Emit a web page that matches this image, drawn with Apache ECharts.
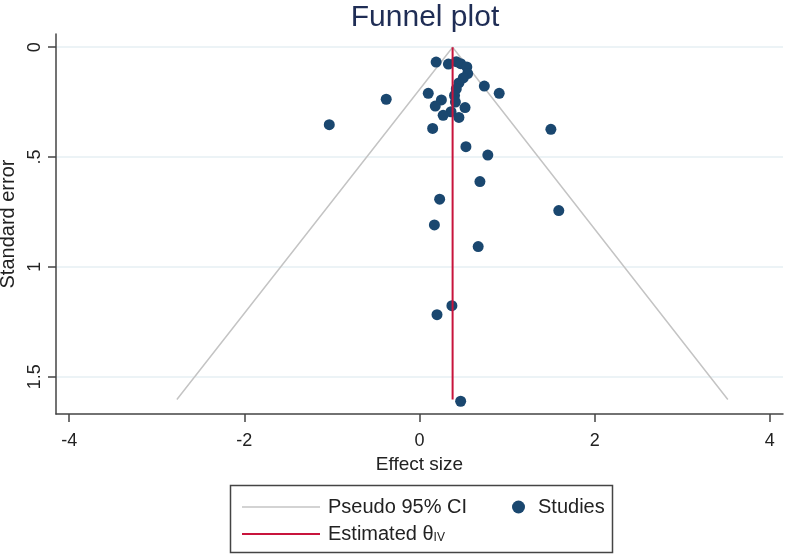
<!DOCTYPE html>
<html>
<head>
<meta charset="utf-8">
<script src="https://cdn.jsdelivr.net/npm/echarts@6/dist/echarts.min.js"></script>
<style>html,body{margin:0;padding:0;background:#fff}#c{width:787px;height:554px}</style>
</head>
<body>
<div id="c"></div>
<script>
// Studies: [effect size, standard error]
const studies = [
  [0.19, 0.068], [0.33, 0.077], [0.42, 0.066], [0.47, 0.075], [0.54, 0.090],
  [0.55, 0.120], [0.50, 0.140], [0.45, 0.163], [0.74, 0.177], [0.42, 0.190],
  [0.91, 0.210], [0.10, 0.210], [0.40, 0.220], [-0.38, 0.237], [0.25, 0.240],
  [0.41, 0.250], [0.18, 0.268], [0.52, 0.275], [0.36, 0.294], [0.27, 0.310],
  [0.45, 0.320], [-1.03, 0.353], [0.15, 0.370], [1.50, 0.374], [0.53, 0.453],
  [0.78, 0.491], [0.69, 0.612], [0.23, 0.692], [1.59, 0.744], [0.17, 0.809],
  [0.67, 0.908], [0.37, 1.177], [0.20, 1.218], [0.47, 1.612]
];
// Pseudo 95% CI funnel (left end, apex, right end)
const funnel = [[-2.77, 1.604], [0.378, 0], [3.52, 1.604]];
// Estimated theta (IV) line
const thetaLine = [[0.378, 0], [0.378, 1.604]];
// Tick labels
const xTicks = [-4, -2, 0, 2, 4];
const yTicks = [0, 0.5, 1, 1.5];

const FONT = 'Liberation Sans, Arial, sans-serif';
const chart = echarts.init(document.getElementById('c'));
chart.setOption({
  animation: false,
  backgroundColor: '#ffffff',
  title: {
    text: 'Funnel plot',
    left: 420, top: -2, textAlign: 'center',
    textStyle: { fontFamily: FONT, fontSize: 30, fontWeight: 'normal', color: '#1f2d55' }
  },
  grid: { left: 56, right: 4, top: 34, bottom: 140, containLabel: false, outerBoundsMode: 'none' },
  xAxis: {
    type: 'value', min: -4.15, max: 4.15,
    name: 'Effect size', nameLocation: 'middle', nameGap: 41,
    nameTextStyle: { fontFamily: FONT, fontSize: 19, color: '#222' },
    axisLine: { show: true, onZero: false, lineStyle: { color: '#444', width: 1.5 } },
    axisTick: { show: true, length: 8, lineStyle: { color: '#444', width: 1.5 }, customValues: xTicks },
    axisLabel: { customValues: xTicks, fontFamily: FONT, fontSize: 18, color: '#222', margin: 18 },
    splitLine: { show: false }
  },
  yAxis: {
    type: 'value', inverse: true, min: -0.06, max: 1.67,
    name: 'Standard error', nameLocation: 'middle', nameGap: 32,
    nameTextStyle: { fontFamily: FONT, fontSize: 20, color: '#222' },
    axisLine: { show: true, onZero: false, lineStyle: { color: '#444', width: 1.5 } },
    axisTick: { show: true, length: 8, lineStyle: { color: '#444', width: 1.5 }, customValues: yTicks },
    axisLabel: {
      customValues: yTicks, rotate: 90, fontFamily: FONT, fontSize: 18, color: '#222', margin: 12,
      formatter: v => (v === 0 ? '0' : String(v).replace(/^0\./, '.'))
    },
    splitLine: { show: true, lineStyle: { color: '#e6eff3', width: 1.5 } }
  },
  legend: [
    {
      orient: 'vertical', left: 237, top: 492,
      itemWidth: 78, itemHeight: 12, itemGap: 7,
      data: [
        { name: 'Pseudo 95% CI', icon: 'path://M0,0 L78,0 L78,1.6 L0,1.6 Z' },
        { name: 'Estimated θIV', icon: 'path://M0,0 L78,0 L78,2.2 L0,2.2 Z' }
      ],
      formatter: n => (n === 'Estimated θIV' ? 'Estimated θ{s|IV}' : n),
      textStyle: {
        fontFamily: FONT, fontSize: 20, color: '#222', padding: [0, 0, 0, 3],
        rich: { s: { fontFamily: FONT, fontSize: 12, color: '#222', verticalAlign: 'bottom', padding: [8, 0, 0, 0] } }
      },
      selectedMode: false
    },
    {
      orient: 'horizontal', left: 507, top: 492,
      itemWidth: 13, itemHeight: 13,
      data: [{ name: 'Studies', icon: 'circle' }],
      textStyle: { fontFamily: FONT, fontSize: 20, color: '#222', padding: [0, 0, 0, 8] },
      selectedMode: false
    }
  ],
  graphic: [{
    type: 'rect', left: 228, top: 483,
    shape: { width: 382, height: 67 },
    style: { fill: 'none', stroke: '#444', lineWidth: 1.5 },
    silent: true
  }],
  series: [
    {
      name: 'Pseudo 95% CI', type: 'line', data: funnel,
      symbol: 'none', lineStyle: { color: '#c4c4c4', width: 1.5 }, itemStyle: { color: '#c4c4c4' },
      z: 2
    },
    {
      name: 'Studies', type: 'scatter', data: studies,
      symbol: 'circle', symbolSize: 11, itemStyle: { color: '#1a476f', opacity: 1 },
      z: 3
    },
    {
      name: 'Estimated θIV', type: 'line', data: thetaLine,
      symbol: 'none', lineStyle: { color: '#c8143c', width: 2 }, itemStyle: { color: '#c8143c' },
      z: 4
    }
  ]
});
</script>
</body>
</html>
